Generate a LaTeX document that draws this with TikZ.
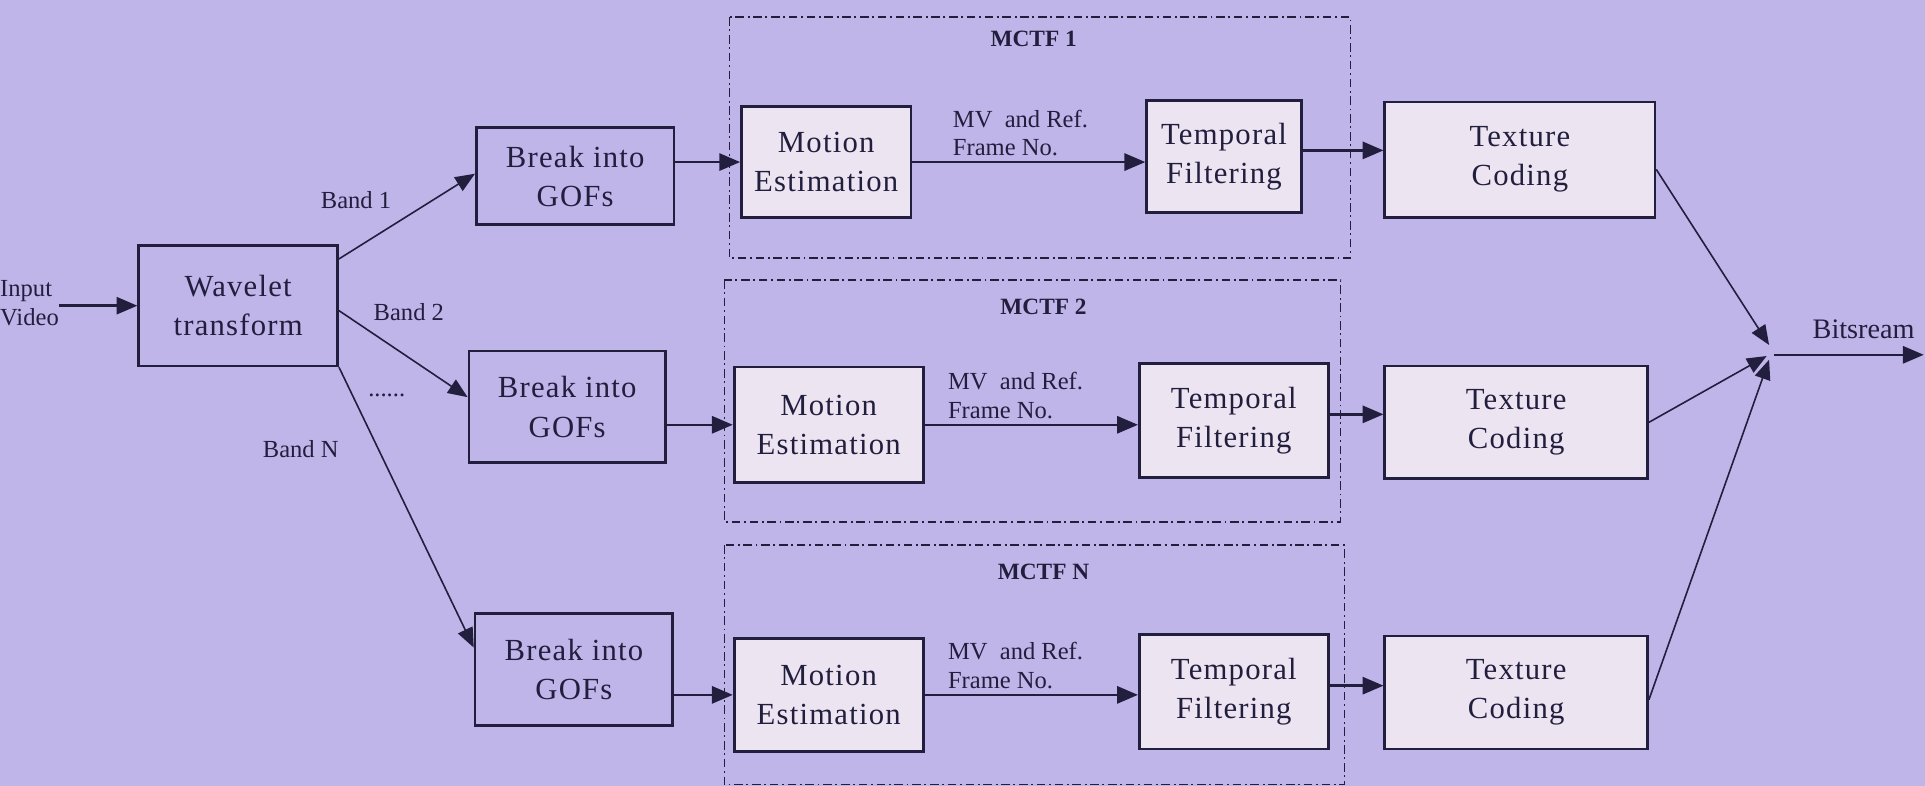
\documentclass[tikz,border=0pt]{standalone}
\usepackage{fontspec}
\setmainfont{Liberation Serif}
\newfontfamily\boxfont{Liberation Serif}[LetterSpace=4]
\usetikzlibrary{arrows.meta,calc}
\definecolor{bgc}{RGB}{192,181,233}
\definecolor{boxfill}{RGB}{237,228,241}
\definecolor{ink}{RGB}{34,30,62}
\begin{document}
\begin{tikzpicture}[x=1pt,y=-1pt,
  every node/.style={text=ink},
  blk/.style={draw=ink,line width=2.2pt,align=center,inner sep=0pt,
    font=\boxfont\fontsize{25}{32}\selectfont},
  plainbox/.style={blk},
  fillbox/.style={blk,fill=boxfill},
  lbl/.style={font=\fontsize{20}{23}\selectfont,align=left,inner sep=0pt},
  ttl/.style={font=\bfseries\fontsize{19}{22}\selectfont,inner sep=0pt},
  grp/.style={draw=ink,line width=1.2pt,dash pattern=on 7pt off 3pt on 1.5pt off 3pt},
  arr/.style={draw=ink,line width=2pt,-{Triangle[length=17pt,width=14pt]}},
  thin/.style={draw=ink,line width=1.3pt,-{Triangle[length=16pt,width=13pt]}}
]
\fill[bgc] (0,0) rectangle (1568,640);
\useasboundingbox (0,0) rectangle (1568,640);

% group frames
\begin{scope}
\clip (0,0) rectangle (1568,640);
\draw[grp] (594,14) rectangle (1100,210);
\draw[grp] (590,228) rectangle (1092,425);
\draw[grp] (590,444) rectangle (1095,639);
\end{scope}
\node[ttl] (t1) at (842,32) {MCTF 1};
\node[ttl] (t2) at (850,250) {MCTF 2};
\node[ttl] (tN) at (850,466) {MCTF N};

% input
\node[lbl,anchor=west] (in) at (0,247) {Input\\Video};
\node[plainbox,minimum width=162pt,minimum height=98pt] (wav) at (194,249) {Wavelet\\transform};

\node[plainbox,minimum width=161pt,minimum height=79pt] (gof1) at (468.5,143.5) {Break into\\GOFs};
\node[plainbox,minimum width=160pt,minimum height=91pt] (gof2) at (462,331.5) {Break into\\GOFs};
\node[plainbox,minimum width=161pt,minimum height=91pt] (gofN) at (467.5,545.5) {Break into\\GOFs};

\node[fillbox,minimum width=138pt,minimum height=90pt] (me1) at (673,132) {Motion\\Estimation};
\node[fillbox,minimum width=126pt,minimum height=91pt] (tf1) at (997,127.5) {Temporal\\Filtering};
\node[fillbox,minimum width=220pt,minimum height=94pt] (tc1) at (1238,130) {Texture\\Coding};

\node[fillbox,minimum width=154pt,minimum height=94pt] (me2) at (675,346) {Motion\\Estimation};
\node[fillbox,minimum width=154pt,minimum height=93pt] (tf2) at (1005,342.5) {Temporal\\Filtering};
\node[fillbox,minimum width=214pt,minimum height=92pt] (tc2) at (1235,344) {Texture\\Coding};

\node[fillbox,minimum width=154pt,minimum height=92pt] (meN) at (675,566) {Motion\\Estimation};
\node[fillbox,minimum width=154pt,minimum height=93pt] (tfN) at (1005,563.5) {Temporal\\Filtering};
\node[fillbox,minimum width=214pt,minimum height=92pt] (tcN) at (1235,564) {Texture\\Coding};

% labels
\node[lbl] (b1) at (290,163) {Band 1};
\node[lbl] (b2) at (333,254) {Band 2};
\node[lbl] (bN) at (245,366) {Band N};
\node[lbl] (dots) at (315,322) {......};
\node[lbl,font=\fontsize{23}{26}\selectfont] (bits) at (1518,268) {Bitsream};
\node[lbl,anchor=south west] (mv1) at (776,127) {MV\ \ and Ref.\\Frame No.};
\node[lbl,anchor=south west] (mv2) at (772,341) {MV\ \ and Ref.\\Frame No.};
\node[lbl,anchor=south west] (mvN) at (772,561) {MV\ \ and Ref.\\Frame No.};

% connectors
\draw[arr] (in.east |- wav.west) -- (wav.west);
\draw[thin] ([yshift=-12pt]wav.north east) -- ([yshift=2pt]gof1.west);
\draw[thin] ([yshift=-4pt]wav.east) -- ([yshift=8pt]gof2.west);
\draw[thin] (wav.south east) -- ([yshift=18pt]gofN.west);

\draw[arr] (gof1.east |- me1.west) -- (me1.west);
\draw[arr] (gof2.east |- me2.west) -- (me2.west);
\draw[arr] (gofN.east |- meN.west) -- (meN.west);

\draw[arr] (me1.east) -- (me1.east -| tf1.west);
\draw[arr] (me2.east) -- (me2.east -| tf2.west);
\draw[arr] (meN.east) -- (meN.east -| tfN.west);

\draw[arr] ([yshift=5pt]tf1.east) -- ([yshift=5pt]tf1.east -| tc1.west);
\draw[arr] ([yshift=5pt]tf2.east) -- ([yshift=5pt]tf2.east -| tc2.west);
\draw[arr] ([yshift=5pt]tfN.east) -- ([yshift=5pt]tfN.east -| tcN.west);

\coordinate (m) at (1445,289);
\coordinate (out) at (1567,289);
\draw[thin] ([yshift=-8pt]tc1.east) -- ([shift={(-4pt,8pt)}]m);
\draw[thin] (tc2.east) -- ([shift={(-6pt,-1pt)}]m);
\draw[thin] ([yshift=-6pt]tcN.east) -- ([shift={(-4pt,-4pt)}]m);
\draw[arr] (m) -- (out);
\end{tikzpicture}
\end{document}
